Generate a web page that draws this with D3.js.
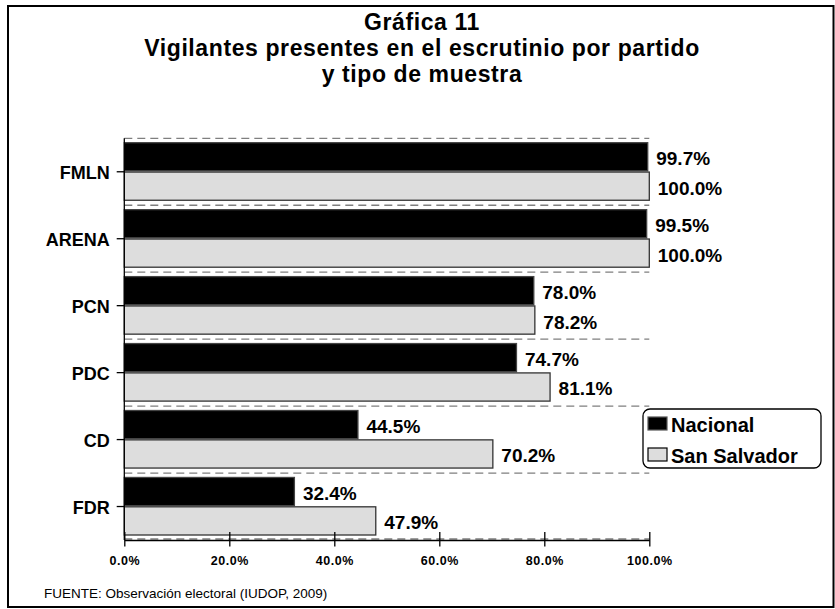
<!DOCTYPE html>
<html>
<head>
<meta charset="utf-8">
<script src="https://cdn.jsdelivr.net/npm/d3@7"></script>
<style>
  body { margin: 0; background: #fff; }
  text { font-family: "Liberation Sans", Arial, sans-serif; }
</style>
</head>
<body>
<div class="chart"></div>
<script>
var partidos = ["FMLN", "ARENA", "PCN", "PDC", "CD", "FDR"];
var series = ["Nacional", "San Salvador"];
var nacional = [99.7, 99.5, 78.0, 74.7, 44.5, 32.4];
var sanSalvador = [100.0, 100.0, 78.2, 81.1, 70.2, 47.9];
var xTicks = [0, 20, 40, 60, 80, 100];
var titleLines = ["Gráfica 11", "Vigilantes presentes en el escrutinio por partido", "y tipo de muestra"];
var fuente = "FUENTE: Observación electoral (IUDOP, 2009)";

var colors = {"Nacional": "#000000", "San Salvador": "#dddddd"};

var W = 835, H = 609;
var margin = {top: 138.3, left: 124.3, right: 835 - 649.3, bottom: 609 - 540};
var width = W - margin.left - margin.right,
    height = H - margin.top - margin.bottom;

// rows: one per partido, two bars each
var data = partidos.map(function(p, i) {
  return {partido: p, values: [
    {serie: "Nacional", value: nacional[i]},
    {serie: "San Salvador", value: sanSalvador[i]}
  ]};
});

var svg = d3.select(".chart").append("svg")
    .attr("width", W)
    .attr("height", H);

// outer frame
svg.append("rect")
    .attr("x", 8).attr("y", 6)
    .attr("width", 825.5).attr("height", 601)
    .attr("fill", "none")
    .attr("stroke", "#000")
    .attr("stroke-width", 2);

// title
svg.append("g").selectAll("text")
    .data(titleLines)
    .enter().append("text")
    .attr("x", 422)
    .attr("y", function(d, i) { return 29.5 + i * 26.2; })
    .attr("text-anchor", "middle")
    .style("font-size", "23px")
    .style("font-weight", "bold")
    .style("letter-spacing", "0.6px")
    .text(function(d) { return d; });

var g = svg.append("g")
    .attr("transform", "translate(" + margin.left + "," + margin.top + ")");

var x = d3.scaleLinear().domain([0, 100]).range([0, width]);
var y = d3.scaleBand().domain(partidos).range([0, height]);
var ySub = d3.scaleBand().domain(series).range([4.4, y.bandwidth() - 5]).paddingInner(0.04);

// dashed separators between categories
g.append("g").selectAll("line")
    .data(partidos)
    .enter().append("line")
    .attr("x1", 0)
    .attr("x2", width)
    .attr("y1", function(d) { return y(d); })
    .attr("y2", function(d) { return y(d); })
    .attr("stroke", "#7f7f7f")
    .attr("stroke-width", 1.3)
    .attr("stroke-dasharray", "8,5");

g.append("line")
    .attr("x1", 0).attr("x2", width)
    .attr("y1", height - 1).attr("y2", height - 1)
    .attr("stroke", "#7f7f7f")
    .attr("stroke-width", 1.3)
    .attr("stroke-dasharray", "8,5");

var rows = g.append("g").selectAll("g")
    .data(data)
    .enter().append("g")
    .attr("transform", function(d) { return "translate(0," + y(d.partido) + ")"; });

rows.selectAll("rect")
    .data(function(d) { return d.values; })
    .enter().append("rect")
    .attr("x", 0)
    .attr("y", function(d) { return ySub(d.serie); })
    .attr("width", function(d) { return x(d.value); })
    .attr("height", ySub.bandwidth())
    .attr("fill", function(d) { return colors[d.serie]; })
    .attr("stroke", function(d) { return d.serie == "Nacional" ? "#444" : "#333"; })
    .attr("stroke-width", 1.3);

// value labels
rows.selectAll("text")
    .data(function(d) { return d.values; })
    .enter().append("text")
    .attr("x", function(d) { return x(d.value) + 8.5; })
    .attr("y", function(d) { return ySub(d.serie) + ySub.bandwidth() / 2 + 8.5; })
    .style("font-size", "19px")
    .style("font-weight", "bold")
    .text(function(d) { return d3.format(".1f")(d.value) + "%"; });

// y axis
var yAxis = d3.axisLeft(y).tickSize(7.6).tickPadding(7);
var yg = g.append("g").call(yAxis);
yg.select(".domain").remove();
yg.selectAll(".tick line").attr("stroke", "#000").attr("stroke-width", 1.3);
yg.selectAll(".tick text")
    .attr("dy", null)
    .attr("y", 7.6)
    .style("font-size", "18px")
    .style("font-weight", "bold")
    .attr("fill", "#000");

g.append("line")
    .attr("x1", 0).attr("x2", 0)
    .attr("y1", 0).attr("y2", height)
    .attr("stroke", "#000")
    .attr("stroke-width", 1.3);

// x axis, ticks cross the axis line
var xAxis = d3.axisBottom(x)
    .tickValues(xTicks)
    .tickSizeInner(6.5)
    .tickSizeOuter(0)
    .tickPadding(11)
    .tickFormat(function(d) { return d3.format(".1f")(d) + "%"; });

var xg = g.append("g")
    .attr("transform", "translate(0," + height + ")")
    .call(xAxis);
xg.select(".domain").attr("stroke", "#000").attr("stroke-width", 1.3);
xg.selectAll(".tick line")
    .attr("y1", -8)
    .attr("stroke", "#000")
    .attr("stroke-width", 1.3);
xg.selectAll(".tick text")
    .attr("dy", null)
    .attr("y", 25)
    .style("font-size", "12.5px")
    .style("font-weight", "bold")
    .style("letter-spacing", "0.5px")
    .attr("fill", "#000");

// legend
var legend = svg.append("g")
    .attr("class", "legend")
    .attr("transform", "translate(643,409)");

legend.append("rect")
    .attr("width", 178)
    .attr("height", 59)
    .attr("rx", 7)
    .attr("fill", "#fff")
    .attr("stroke", "#000")
    .attr("stroke-width", 1.3);

var item = legend.selectAll(".item")
    .data(series)
    .enter().append("g")
    .attr("class", "item")
    .attr("transform", function(d, i) { return "translate(5," + (8 + i * 31) + ")"; });

item.append("rect")
    .attr("width", 19)
    .attr("height", 13)
    .attr("fill", function(d) { return colors[d]; })
    .attr("stroke", function(d) { return d == "Nacional" ? "#555" : "#000"; })
    .attr("stroke-width", 1.2);

item.append("text")
    .attr("x", 23)
    .attr("y", 14.7)
    .style("font-size", "20px")
    .style("font-weight", "bold")
    .text(function(d) { return d; });

// source note
svg.append("text")
    .attr("x", 44)
    .attr("y", 598)
    .style("font-size", "13.5px")
    .text(fuente);
</script>
</body>
</html>
